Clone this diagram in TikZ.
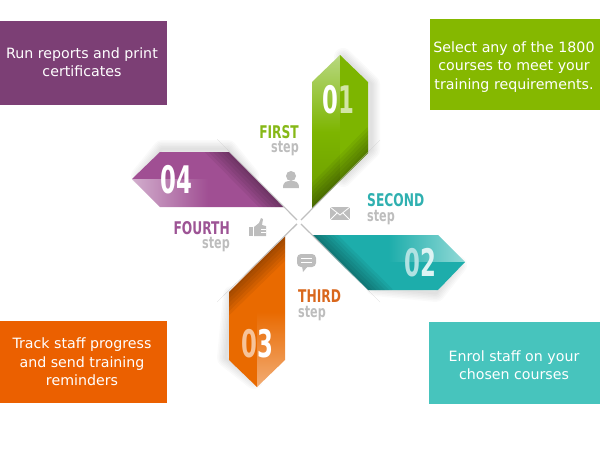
\documentclass[tikz,border=0pt]{standalone}
\usepackage{fontspec}
\setmainfont{DejaVu Sans}
\newfontfamily\stepfont[FakeStretch=0.70]{DejaVu Sans}
\newfontfamily\numfont[FakeStretch=0.60]{DejaVu Sans}
\definecolor{boxpurple}{HTML}{7C3F75}
\definecolor{boxgreen}{HTML}{85B800}
\definecolor{boxorange}{HTML}{EB6000}
\definecolor{boxteal}{HTML}{47C4BD}
\definecolor{purplemain}{HTML}{A04F93}
\definecolor{purplepale}{HTML}{D2AECD}
\definecolor{greenmain}{HTML}{7DB500}
\definecolor{greenpale}{HTML}{B8D880}
\definecolor{tealmain}{HTML}{1DADAB}
\definecolor{tealpale}{HTML}{93DAD7}
\definecolor{orangemain}{HTML}{E96A00}
\definecolor{orangepale}{HTML}{F2AC74}
\definecolor{labelgreen}{HTML}{86B817}
\definecolor{labelteal}{HTML}{2FB0B0}
\definecolor{labelorange}{HTML}{D9671C}
\definecolor{labelpurple}{HTML}{9D5495}
\definecolor{stepgray}{HTML}{BDBDBD}
\newcommand{\stepword}{\fontsize{16}{14.5}\selectfont\textcolor{stepgray}{step}}
\tikzset{
  infobox/.style={minimum width=#1, text=white, font=\fontsize{14.2}{18.5}\selectfont, align=center, inner sep=0pt},
  steplabel/.style={font=\stepfont\bfseries\fontsize{17.5}{14.5}\selectfont, inner sep=0pt},
  numtext/.style={font=\numfont\bfseries\fontsize{38}{38}\selectfont, inner sep=0pt, anchor=base},
  softshadow/.style={line width=#1, black, opacity=0.02, line join=round},
  foldshadow/.style={line width=#1, black, opacity=0.055}
}
\begin{document}
\begin{tikzpicture}[x=1pt,y=-1pt]
    \useasboundingbox (0,0) rectangle (600,450);
    % outer boxes
    \fill[boxpurple] (0,21) rectangle (167,105);
    \fill[boxgreen] (430,19) rectangle (600,110);
    \fill[boxorange] (0,321) rectangle (167,403);
    \fill[boxteal] (429,322) rectangle (600,404);
    \node (boxrun) [infobox=167pt] at (82,62) {Run reports and print\\certificates};
    \node (boxselect) [infobox=170pt] at (514,67) {Select any of the 1800\\courses to meet your\\training requirements.};
    \node (boxtrack) [infobox=167pt] at (82,362) {Track staff progress\\and send training\\reminders};
    \node (boxenrol) [infobox=171pt] at (514,365) {Enrol staff on your\\chosen courses};
    % fold lines
    \coordinate (centre) at (299,222);
    \coordinate (foldfirst) at (380,140);
    \coordinate (foldsecond) at (380,302);
    \coordinate (foldthird) at (217,302);
    \coordinate (foldfourth) at (217,139);
    % soft shadows behind the arrows
    \foreach \w in {3,6,...,18} {
        \draw[softshadow=\w pt] (343,57) -- (371,84) -- (371,150) -- (343,178) -- cycle;
        \draw[softshadow=\w pt] (140,176) -- (162,149) -- (228,149) -- (250,176) -- cycle;
        \draw[softshadow=\w pt] (375,287) -- (436,293) -- (458,265) -- (375,265) -- cycle;
        \draw[softshadow=\w pt] (232,295) -- (226,358) -- (254,380) -- (254,295) -- cycle;
    }
    % arrow 01
    \shade[top color=greenpale, bottom color=greenmain!85!black, middle color=greenmain] (340,55) -- (312,82) -- (312,209) -- (340,181) -- cycle;
    \fill[greenmain] (340,55) -- (368,82) -- (368,153) -- (340,181) -- cycle;
    \begin{scope}
        \clip (340,55) -- (368,82) -- (368,153) -- (312,209) -- (312,82) -- cycle;
        \foreach \w in {6,12,...,36} \draw[foldshadow=\w pt] (centre) -- (foldfirst);
    \end{scope}
    % arrow 02
    \shade[left color=tealmain, right color=tealpale, middle color=tealmain] (312,235) -- (438,235) -- (465,262) -- (339,262) -- cycle;
    \fill[tealmain] (339,262) -- (465,262) -- (438,290) -- (368,290) -- cycle;
    \begin{scope}
        \clip (312,235) -- (438,235) -- (465,262) -- (438,290) -- (368,290) -- cycle;
        \foreach \w in {6,12,...,36} \draw[foldshadow=\w pt] (centre) -- (foldsecond);
    \end{scope}
    % arrow 03
    \fill[orangemain] (257,264) -- (257,387) -- (229,360) -- (229,292) -- cycle;
    \shade[top color=orangemain, bottom color=orangepale, middle color=orangemain] (285,236) -- (285,360) -- (257,387) -- (257,264) -- cycle;
    \begin{scope}
        \clip (285,236) -- (285,360) -- (257,387) -- (229,360) -- (229,292) -- cycle;
        \foreach \w in {6,12,...,36} \draw[foldshadow=\w pt] (centre) -- (foldthird);
    \end{scope}
    % arrow 04
    \fill[purplemain] (132,179) -- (160,152) -- (229,152) -- (256,179) -- cycle;
    \shade[left color=purplepale, right color=purplemain, middle color=purplemain] (132,179) -- (256,179) -- (284,207) -- (160,207) -- cycle;
    \begin{scope}
        \clip (132,179) -- (160,152) -- (229,152) -- (284,207) -- (160,207) -- cycle;
        \foreach \w in {6,12,...,36} \draw[foldshadow=\w pt] (centre) -- (foldfourth);
    \end{scope}
    % tapered creases and the middle
    \fill[gray!50] (foldfirst) -- (300,222) -- (298,222) -- cycle;
    \fill[gray!50] (foldsecond) -- (299,221) -- (299,223) -- cycle;
    \fill[gray!50] (foldthird) -- (300,222) -- (298,222) -- cycle;
    \fill[gray!50] (foldfourth) -- (299,221) -- (299,223) -- cycle;
    \fill[white] (centre) circle [radius=3];
    % numbers
    \node (numfirst) [numtext] at (338,113) {\textcolor{white}{0}\textcolor{white!65!greenmain}{1}};
    \node (numsecond) [numtext] at (420,276) {\textcolor{white!65!tealmain}{0}\textcolor{white!85!tealmain}{2}};
    \node (numthird) [numtext] at (257,357) {\textcolor{white!60!orangemain}{0}\textcolor{white}{3}};
    \node (numfourth) [numtext, text=white] at (176.5,193) {04};
    % step labels
    \node (labelfirst) [steplabel, align=right, anchor=north east] at (299,125) {\textcolor{labelgreen}{FIRST}\\\stepword};
    \node (labelsecond) [steplabel, align=left, anchor=north west] at (367,193.5) {\textcolor{labelteal}{SECOND}\\\stepword};
    \node (labelthird) [steplabel, align=left, anchor=north west] at (298,290) {\textcolor{labelorange}{THIRD}\\\stepword};
    \node (labelfourth) [steplabel, align=right, anchor=north east] at (230,221) {\textcolor{labelpurple}{FOURTH}\\\stepword};
    % icons
    \fill[stepgray] (291,176) circle [radius=5];
    \fill[stepgray] (283,188) .. controls (283,181) and (287,181) .. (291,181) .. controls (295,181) and (299,181) .. (299,188) -- cycle;
    \fill[stepgray] (330,207) rectangle (350,220);
    \draw[white, thick] (330,207) -- (340,215) -- (350,207);
    \draw[white, thick] (330,220) -- (337,213);
    \draw[white, thick] (350,220) -- (343,213);
    \fill[stepgray, rounded corners=4pt] (297,254) rectangle (316,267);
    \fill[stepgray] (302,266) -- (308,266) -- (303,272) -- cycle;
    \draw[white, thick] (301,258) -- (312,258);
    \draw[white, thick] (301,262) -- (312,262);
    \fill[stepgray] (249,227) rectangle (253,236);
    \fill[stepgray] (254,236) -- (254,227) -- (259,223) -- (261,218) -- (263,219) -- (262,225) -- (266,226) -- (266,236) -- cycle;
    \draw[white] (261,229) -- (266,229);
    \draw[white] (261,232) -- (266,232);
\end{tikzpicture}
\end{document}
